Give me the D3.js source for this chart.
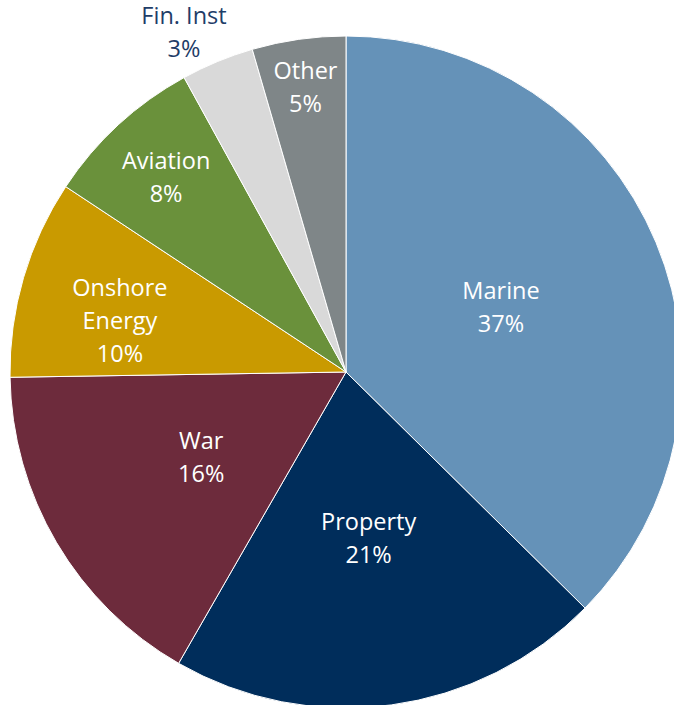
<!DOCTYPE html>
<html>
<head>
<meta charset="utf-8">
<script src="https://cdn.jsdelivr.net/npm/d3@7"></script>
<style>
  body { margin: 0; background: #fff; }
  svg text { font-family: "Open Sans", "Noto Sans", sans-serif; font-size: 23.5px; }
</style>
</head>
<body>
<div id="chart"></div>
<script>
var width = 674,
    height = 705;

// slices clockwise from 12 o'clock
var categories = ["Marine", "Property", "War", "Onshore Energy", "Aviation", "Fin. Inst", "Other"];
var labelLines = [["Marine"], ["Property"], ["War"], ["Onshore", "Energy"], ["Aviation"], ["Fin. Inst"], ["Other"]];
// slice sizes as drawn and the rounded percentages printed on them
var shares = [37.4, 20.9, 16.45, 9.55, 7.7, 3.5, 4.5];
var pctLabels = ["37%", "21%", "16%", "10%", "8%", "3%", "5%"];
var colours = ["#6592b8", "#002d5b", "#6d2b3c", "#c99a00", "#6a913b", "#d9d9d9", "#7f8688"];

// label placement: fraction of radius, and angle nudge in degrees
var labelRadius = [0.5, 0.5, 0.5, 0.69, 0.79, 1.12, 0.855];
var labelShift = [0, 0, 0, -3.5, 0, -3, 0];

var cx = 346, cy = 372, radius = 336;

var svg = d3.select("#chart").append("svg")
    .attr("width", width)
    .attr("height", height);

var g = svg.append("g")
    .attr("transform", "translate(" + cx + "," + cy + ")");

var pie = d3.pie()
    .sort(null)
    .value(function(d) { return d; });

var arcs = pie(shares);

var arc = d3.arc()
    .innerRadius(0)
    .outerRadius(radius);

g.selectAll("path.slice")
    .data(arcs)
    .enter()
    .append("path")
    .attr("class", "slice")
    .attr("d", arc)
    .style("fill", function(d, i) { return colours[i]; })
    .style("stroke", "#fff")
    .style("stroke-width", 1);

var lineHeight = 33;

var labels = g.selectAll("text.lbl")
    .data(arcs)
    .enter()
    .append("text")
    .attr("class", "lbl")
    .attr("text-anchor", "middle")
    .style("fill", function(d, i) { return labelRadius[i] > 1 ? "#1f3d68" : "#fff"; })
    .attr("transform", function(d, i) {
      var r = radius * labelRadius[i];
      var a = (d.startAngle + d.endAngle) / 2 + labelShift[i] * Math.PI / 180;
      return "translate(" + (r * Math.sin(a)) + "," + (-r * Math.cos(a)) + ")";
    });

labels.each(function(d, i) {
  var lines = labelLines[i].concat([pctLabels[i]]);
  var t = d3.select(this);
  var top = -(lines.length - 1) * lineHeight / 2;
  lines.forEach(function(l, j) {
    t.append("tspan")
      .attr("x", 0)
      .attr("y", top + j * lineHeight)
      .attr("dy", "0.35em")
      .text(l);
  });
});
</script>
</body>
</html>
